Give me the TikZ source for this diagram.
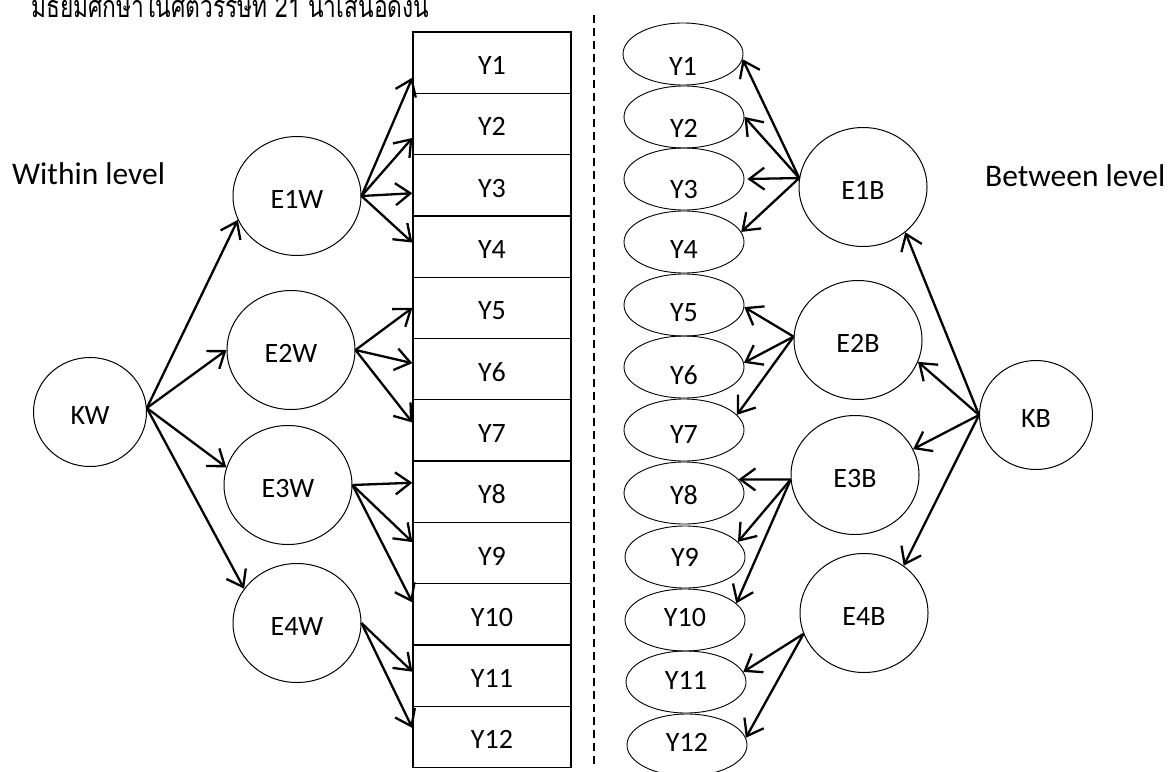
\documentclass[tikz,border=0pt]{standalone}
\usepackage{fontspec}
\usepackage{graphicx}
\setmainfont{Carlito}
\newfontfamily\thaifont[Script=Thai]{Loma}
\usetikzlibrary{shapes.geometric,arrows.meta}
\begin{document}
\begin{tikzpicture}[x=1pt,y=-1pt,
  lbl/.style={font=\fontsize{28}{32}\selectfont},
  low/.style={text height=24pt, text depth=0pt},
  bigE/.style={draw, line width=1pt, ellipse, minimum width=128pt, minimum height=119pt, inner sep=0pt, lbl, low},
  kE/.style={draw, line width=1pt, ellipse, minimum width=113pt, minimum height=109pt, inner sep=0pt, lbl, low},
  smE/.style={draw, line width=0.9pt, ellipse, minimum width=120pt, minimum height=62pt, inner sep=0pt},
  box/.style={draw, line width=1.3pt, rectangle, minimum width=158pt, minimum height=61.3pt, inner sep=0pt, lbl, low},
  arr/.style={line width=2.3pt, -{Straight Barb[length=15pt,width=22pt]}},
  side/.style={font=\fontsize{31.5}{34}\selectfont}
]
\useasboundingbox (0,0) rectangle (1169,771);
\fill[white] (0,0) rectangle (1169,771);

% header
\node[anchor=base west, inner sep=0pt, font=\thaifont\fontsize{30.5}{34}\selectfont] (head) at (31,17) {\resizebox{398pt}{\height}{มัธยมศึกษาในศตวรรษที่ 21 นำเสนอดังนี้}};

% side labels
\node[side, anchor=west, inner sep=0pt] (within) at (12,174) {Within level};
\node[side, anchor=west, inner sep=0pt] (between) at (985,176) {Between level};

% dashed separator
\coordinate (dtop) at (594,15);
\coordinate (dbot) at (594,768);
\draw[line width=1.6pt, dash pattern=on 8pt off 5pt] (dtop) -- (dbot);

% within boxes
\foreach \i in {1,...,12}{
  \node[box] (Y\i) at (492, {32+61.3*(\i-0.5)}) {Y\i};
}

% within latent
\node[kE] (KW) at (90,412) {KW};
\node[bigE] (E1W) at (297,196) {E1W};
\node[bigE] (E2W) at (291,350) {E2W};
\node[bigE] (E3W) at (288,485) {E3W};
\node[bigE] (E4W) at (297,623) {E4W};

% between small ellipses
\node[smE, label={[lbl,yshift=-12pt]center:Y1}] (Y1r) at (683,54) {};
\node[smE, label={[lbl,yshift=-11pt]center:Y2}] (Y2r) at (684,117) {};
\node[smE, label={[lbl,yshift=-11pt]center:Y3}] (Y3r) at (684,179) {};
\node[smE, label={[lbl,yshift=-8pt]center:Y4}] (Y4r) at (684,242) {};
\node[smE, label={[lbl,yshift=-8pt]center:Y5}] (Y5r) at (684,305) {};
\node[smE, label={[lbl,yshift=-8pt]center:Y6}] (Y6r) at (684,367) {};
\node[smE, label={[lbl,yshift=-5pt]center:Y7}] (Y7r) at (684,430) {};
\node[smE, label={[lbl,yshift=-2pt]center:Y8}] (Y8r) at (684,493) {};
\node[smE, label={[lbl,yshift=0pt]center:Y9}] (Y9r) at (685,557) {};
\node[smE, label={[lbl,yshift=2pt]center:Y10}] (Y10r) at (685,620) {};
\node[smE, label={[lbl,yshift=2pt]center:Y11}] (Y11r) at (686,682) {};
\node[smE, label={[lbl,yshift=3pt]center:Y12}] (Y12r) at (687,745) {};

% between latent
\node[bigE] (E1B) at (863,187) {E1B};
\node[bigE] (E2B) at (858,340) {E2B};
\node[bigE] (E3B) at (855,475) {E3B};
\node[bigE] (E4B) at (864,613) {E4B};
\node[kE] (KB) at (1036,415) {KB};

% within arrows
\draw[arr] (KW.4) -- (E1W.202);
\draw[arr] (KW.4) -- (E2W.180);
\draw[arr] (KW.4) -- (E3W.164);
\draw[arr] (KW.4) -- (E4W.147);

\draw[arr] (E1W.east) -- ([yshift=-15pt]Y1.west);
\draw[arr] (E1W.east) -- ([yshift=-14pt]Y2.west);
\draw[arr] (E1W.east) -- ([yshift=-8pt]Y3.west);
\draw[arr] (E1W.east) -- ([yshift=4pt]Y4.west);
\draw[arr] (E2W.east) -- (Y5.west);
\draw[arr] (E2W.east) -- ([yshift=6pt]Y6.west);
\draw[arr] (E2W.east) -- ([yshift=8pt]Y7.west);
\draw[arr] (E3W.east) -- ([yshift=9pt]Y8.west);
\draw[arr] (E3W.east) -- ([yshift=11pt]Y9.west);
\draw[arr] (E3W.east) -- ([yshift=12pt]Y10.west);
\draw[arr] (E4W.east) -- ([yshift=4pt]Y11.west);
\draw[arr] (E4W.east) -- ([yshift=9pt]Y12.west);

% between arrows
\draw[arr] (E1B.172) -- (Y1r.-5);
\draw[arr] (E1B.172) -- (Y2r.0);
\draw[arr] (E1B.172) -- ([xshift=3pt]Y3r.0);
\draw[arr] (E1B.172) -- (Y4r.10);
\draw[arr] (E2B.177) -- (Y5r.-2);
\draw[arr] (E2B.177) -- (Y6r.4);
\draw[arr] (E2B.177) -- (Y7r.16);
\draw[arr] (E3B.184) -- (Y8r.14);
\draw[arr] (E3B.184) -- (Y9r.16);
\draw[arr] (E3B.184) -- (Y10r.18);
\draw[arr] (E4B.199) -- (Y11r.10);
\draw[arr] (E4B.199) -- (Y12r.7);

\draw[arr] (KB.west) -- (E1B.-47);
\draw[arr] (KB.west) -- (E2B.-20);
\draw[arr] (KB.west) -- (E3B.24);
\draw[arr] (KB.west) -- (E4B.50);
\end{tikzpicture}
\end{document}
